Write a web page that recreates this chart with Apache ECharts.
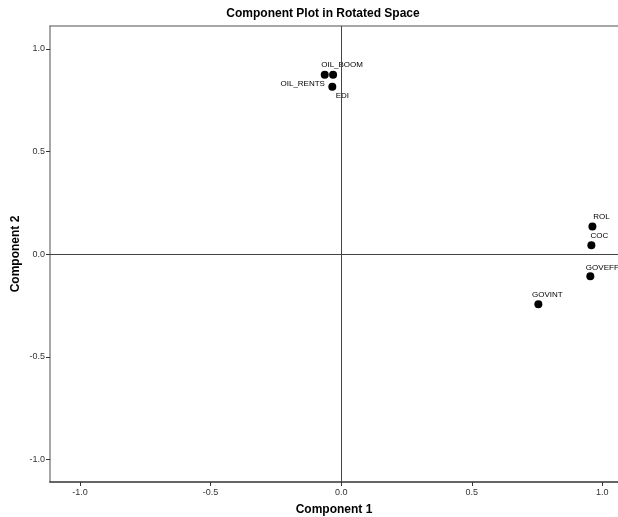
<!DOCTYPE html>
<html>
<head>
<meta charset="utf-8">
<script src="https://cdn.jsdelivr.net/npm/echarts@6/dist/echarts.min.js"></script>
<style>
html,body{margin:0;padding:0;background:#fff;overflow:hidden;}
#c{width:618px;height:517px;}
</style>
</head>
<body>
<div id="c"></div>
<script>
// ---- data ----
const names = ["ROL", "COC", "GOVEFF", "GOVINT", "OIL_BOOM", "OIL_RENTS", "EDI"];
const comp1 = [0.962, 0.958, 0.954, 0.755, -0.031, -0.063, -0.034];
const comp2 = [0.136, 0.044, -0.107, -0.243, 0.874, 0.874, 0.816];
const tickValues = [-1.0, -0.5, 0.0, 0.5, 1.0];

// ---- label placement (style only) ----
const labelOffsets = {
  "ROL": [9, -10],
  "COC": [8, -9],
  "GOVEFF": [12, -8],
  "GOVINT": [9, -9],
  "OIL_BOOM": [9, -10],
  "OIL_RENTS": [-22, 9],
  "EDI": [10, 9]
};

const FONT = "Liberation Sans";
const points = names.map((n, i) => ({
  name: n,
  value: [comp1[i], comp2[i]],
  label: { offset: labelOffsets[n] }
}));

const fmt = v => v.toFixed(1);

const chart = echarts.init(document.getElementById('c'), null, { renderer: 'canvas' });
chart.setOption({
  animation: false,
  backgroundColor: '#fff',
  title: {
    text: 'Component Plot in Rotated Space',
    left: 318, top: 3, textAlign: 'center',
    textStyle: { fontFamily: FONT, fontSize: 12, fontWeight: 'bold', color: '#000' }
  },
  grid: { left: 50, right: 0, top: 26, bottom: 35, containLabel: false, outerBoundsMode: 'none' },
  xAxis: [{
    type: 'value', min: -1.115, max: 1.06, position: 'bottom',
    name: 'Component 1', nameLocation: 'middle', nameGap: 22, nameMoveOverlap: false,
    nameTextStyle: { fontFamily: FONT, fontSize: 12, fontWeight: 'bold', color: '#000' },
    axisLine: { show: true, onZero: false, lineStyle: { color: '#333', width: 1.5 } },
    axisTick: { show: true, customValues: tickValues, length: 4, lineStyle: { color: '#333' } },
    axisLabel: { customValues: tickValues, formatter: fmt, fontFamily: FONT, fontSize: 9, color: '#333', margin: 6 },
    splitLine: { show: false }
  }, {
    type: 'value', min: -1.115, max: 1.06, position: 'top',
    axisLine: { show: true, onZero: false, lineStyle: { color: '#8a8a8a', width: 1.5 } },
    axisTick: { show: false }, axisLabel: { show: false }, splitLine: { show: false }
  }],
  yAxis: {
    type: 'value', min: -1.109, max: 1.112,
    name: 'Component 2', nameLocation: 'middle', nameGap: 28, nameRotate: 90, nameMoveOverlap: false,
    nameTextStyle: { fontFamily: FONT, fontSize: 12, fontWeight: 'bold', color: '#000' },
    axisLine: { show: true, onZero: false, lineStyle: { color: '#8a8a8a', width: 1.5 } },
    axisTick: { show: true, customValues: tickValues, length: 4, lineStyle: { color: '#333' } },
    axisLabel: { customValues: tickValues, formatter: fmt, fontFamily: FONT, fontSize: 9, color: '#333', margin: 5 },
    splitLine: { show: false }
  },
  series: [{
    type: 'scatter',
    xAxisIndex: 0,
    symbol: 'circle',
    symbolSize: 8,
    itemStyle: { color: '#000', opacity: 1 },
    label: {
      show: true, position: 'inside', formatter: '{b}',
      align: 'center', verticalAlign: 'middle',
      fontFamily: FONT, fontSize: 8, color: '#000'
    },
    emphasis: { disabled: true },
    data: points,
    markLine: {
      silent: true, symbol: 'none', label: { show: false },
      lineStyle: { color: '#444', width: 1, type: 'solid' },
      emphasis: { disabled: true },
      data: [{ xAxis: 0 }, { yAxis: 0 }]
    }
  }]
});
</script>
</body>
</html>
